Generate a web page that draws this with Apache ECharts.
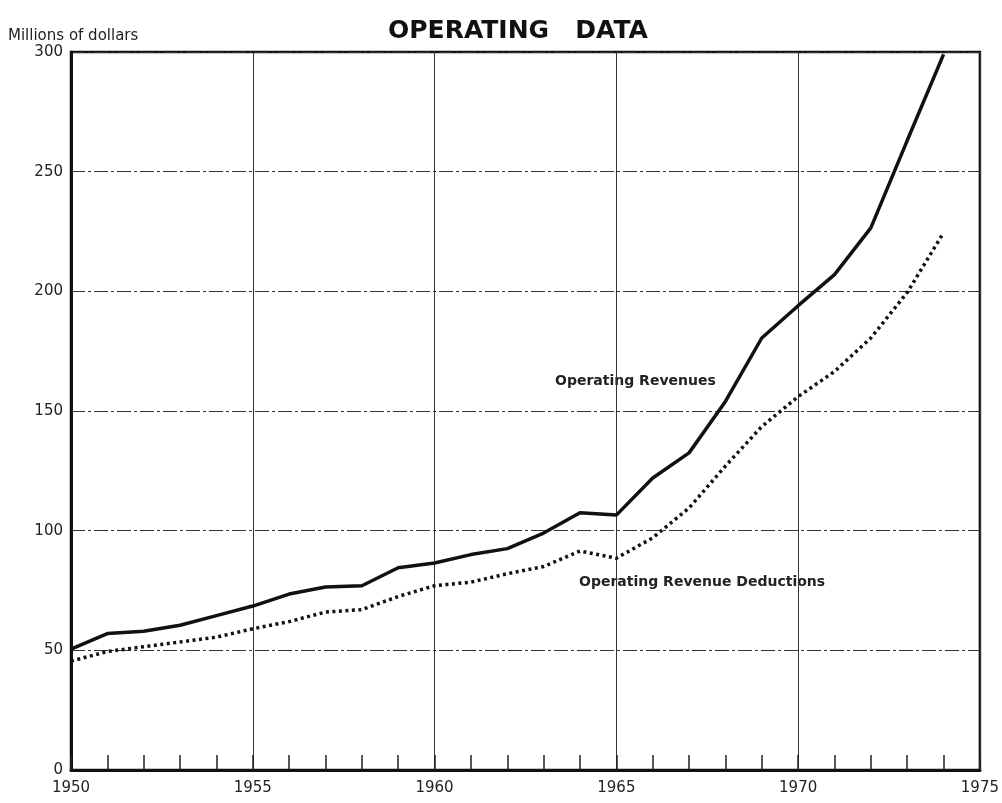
<!DOCTYPE html>
<head>
    <meta charset="utf-8">
    <title>Operating Data</title>
    <script type="text/javascript" src="https://cdn.jsdelivr.net/npm/echarts@6/dist/echarts.min.js"></script>
</head>

<body style="margin:0;background:#fff">
<div id="main" style="width:1002px;height:803px"></div>

<script type="text/javascript">
    // data (millions of dollars)
    var years = [1950, 1951, 1952, 1953, 1954, 1955, 1956, 1957, 1958, 1959, 1960, 1961,
                 1962, 1963, 1964, 1965, 1966, 1967, 1968, 1969, 1970, 1971, 1972, 1973, 1974];
    var revenues = [50.5, 57, 58, 60.5, 64.5, 68.5, 73.5, 76.5, 77, 84.5, 86.5, 90,
                    92.5, 99, 107.5, 106.5, 122, 132.5, 154, 180.5, 194, 207, 226.5, 263, 299];
    var deductions = [45.5, 49.5, 51.5, 53.5, 55.5, 59, 62, 66, 67, 72.5, 77, 78.5,
                      82, 85, 91.5, 88.5, 97, 109.5, 127, 143.5, 156, 166.5, 180.5, 199.5, 224.5];
    var yTicks = [0, 50, 100, 150, 200, 250, 300];
    var xTicks = [1950, 1955, 1960, 1965, 1970, 1975];

    function pairs(vals) {
        var out = [];
        for (var i = 0; i < years.length; i++) out.push([years[i], vals[i]]);
        return out;
    }

    var font = '"DejaVu Sans", sans-serif';
    var myChart = echarts.init(document.getElementById('main'));
    var option = {
        backgroundColor: '#fff',
        animation: false,
        title: {
            text: 'OPERATING   DATA',
            left: 383,
            top: 14,
            textStyle: {fontFamily: font, fontWeight: 'bold', fontSize: 25, color: '#111'}
        },
        graphic: [
            {type: 'text', left: 8, top: 29,
             style: {text: 'Millions of dollars', font: '15px ' + font, fill: '#222'}},
            {type: 'text', left: 555, top: 374,
             style: {text: 'Operating Revenues', font: 'bold 14px ' + font, fill: '#222'}},
            {type: 'text', left: 579, top: 575,
             style: {text: 'Operating Revenue Deductions', font: 'bold 14px ' + font, fill: '#222'}}
        ],
        grid: {
            left: 71, right: 21, top: 52, bottom: 33,
            show: true, borderColor: '#111', borderWidth: 2.5
        },
        xAxis: {
            type: 'value',
            min: xTicks[0], max: xTicks[xTicks.length - 1], interval: 5,
            axisLine: {show: true, lineStyle: {color: '#111', width: 3}},
            axisTick: {show: true, inside: true, length: 15, lineStyle: {color: '#222', width: 1.5}},
            minorTick: {show: true, splitNumber: 5, length: 15, lineStyle: {color: '#222', width: 1.5}},
            axisLabel: {color: '#222', fontSize: 15, fontFamily: font, margin: 11,
                        formatter: function (v) { return String(v); }},
            splitLine: {show: true, lineStyle: {color: '#333', width: 1}}
        },
        yAxis: {
            type: 'value',
            min: yTicks[0], max: yTicks[yTicks.length - 1], interval: 50,
            axisLine: {show: true, lineStyle: {color: '#111', width: 3}},
            axisTick: {show: false},
            axisLabel: {color: '#222', fontSize: 15, fontFamily: font, margin: 8},
            splitLine: {show: true, lineStyle: {color: '#333', width: 1, type: [14, 3, 3, 3]}}
        },
        series: [
            {
                name: 'Operating Revenues',
                type: 'line',
                data: pairs(revenues),
                symbol: 'none',
                lineStyle: {color: '#111', width: 3.5}
            },
            {
                name: 'Operating Revenue Deductions',
                type: 'line',
                data: pairs(deductions),
                symbol: 'none',
                lineStyle: {color: '#111', width: 3.5, type: [3, 3.5]}
            }
        ]
    };
    myChart.setOption(option);
</script>
</body>
